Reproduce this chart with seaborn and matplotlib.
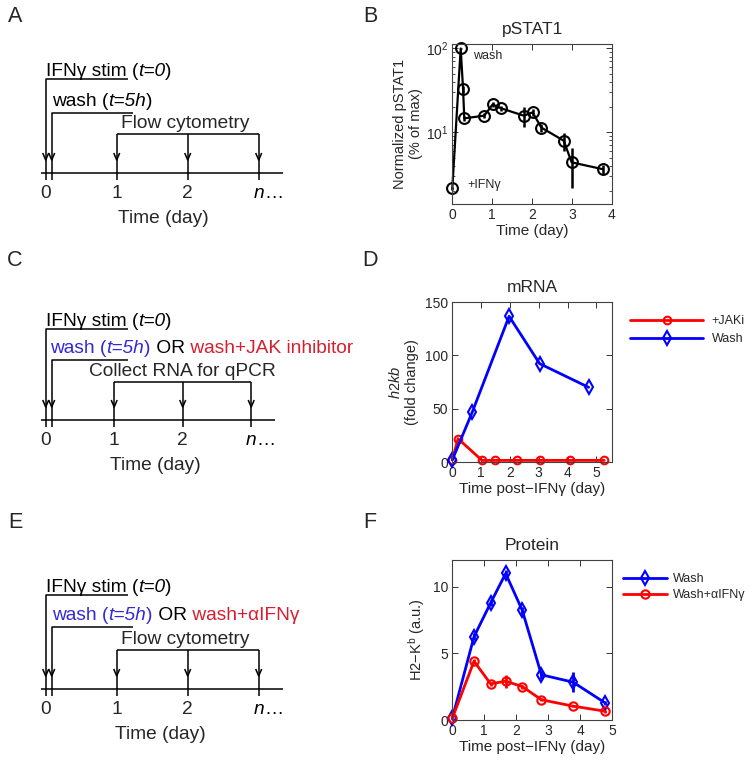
import numpy as np
import pandas as pd
import matplotlib
matplotlib.use('Agg')
import matplotlib.pyplot as plt
import seaborn as sns

# panel B: pSTAT1 (log scale)
pstat_days = [0, 0.21, 0.27, 0.30, 0.80, 1.01, 1.23, 1.79, 2.01, 2.23, 2.79, 2.99, 3.78]
pstat_vals = [2.15, 100, 32.7, 14.7, 15.8, 21.5, 19.3, 15.8, 17.3, 11.4, 7.96, 4.39, 3.63]
pstat_err = [0.1, 2, 3, 1, 1, 1.5, 1.5, 4.2, 1.5, 1.2, 2.0, 2.2, 0.4]

# panel D: h2kb mRNA
mrna_jak_days = [0, 0.2, 1.03, 1.48, 2.24, 3.03, 4.1, 5.27]
mrna_jak = [2, 21.9, 1.5, 1.5, 1.5, 1.5, 1.5, 1.5]
mrna_wash_days = [0, 0.69, 1.97, 3.03, 4.73]
mrna_wash = [2, 46.6, 136.6, 92.2, 70]

# panel F: H2-Kb protein
prot_days = [0, 0.68, 1.2, 1.67, 2.19, 2.79, 3.78, 4.78]
prot_wash = [0.13, 6.25, 8.78, 10.99, 8.23, 3.39, 2.84, 1.29]
prot_wash_err = [0.05, 0.25, 0.25, 0.25, 0.25, 0.3, 0.73, 0.15]
prot_ab = [0.13, 4.41, 2.71, 2.91, 2.51, 1.52, 1.04, 0.66]
prot_ab_err = [0.05, 0.15, 0.15, 0.5, 0.15, 0.1, 0.1, 0.1]

# timeline schematics
tl_days = [1, 2, 3]
tl_labels = ['1', '2', 'n']

sns.set_style('ticks')
plt.rcParams['font.family'] = ['Liberation Sans', 'DejaVu Sans']
plt.rcParams['mathtext.fontset'] = 'custom'
plt.rcParams['mathtext.rm'] = 'Liberation Sans'
plt.rcParams['mathtext.it'] = 'Liberation Sans:italic'
plt.rcParams['mathtext.bf'] = 'Liberation Sans:bold'

BLUE = '#0000ff'
RED = '#ff0000'
TBLUE = '#3328d8'
TRED = '#d81e2e'
W, H = 754, 768
fig = plt.figure(figsize=(7.54, 7.68), dpi=100)

canvas = fig.add_axes([0, 0, 1, 1])
canvas.set_xlim(0, W)
canvas.set_ylim(H, 0)
canvas.axis('off')


def px_axes(left, top, right, bottom):
    return fig.add_axes([left/W, 1-bottom/H, (right-left)/W, (bottom-top)/H])


def rich_text(x, y, parts, size=13.8, ha='left'):
    s, c, st = parts[0]
    t = canvas.text(x, y, s, color=c, style=st, size=size, va='baseline', ha=ha)
    for s, c, st in parts[1:]:
        t = canvas.annotate(s, xy=(1, 0), xycoords=t, va='bottom', ha='left',
                            color=c, style=st, size=size)
    return t


def timeline(y_ax, y_ifn, y_wash, y_samp, x0, day_px, x_end, wash_end,
             wash_parts, wash_x, samp_text, samp_x, time_x):
    kw = dict(color='k', lw=1.1, solid_capstyle='butt')
    xw = x0 + 6
    xs = [x0 + day_px*d for d in tl_days]
    bottom = y_ax + 7
    tip = y_ax - 13
    canvas.plot([41, x_end], [y_ax, y_ax], **kw)
    canvas.plot([x0, x0, 128], [bottom, y_ifn, y_ifn], **kw)
    canvas.plot([xw, xw, wash_end], [bottom, y_wash, y_wash], **kw)
    canvas.plot([xs[0], xs[-1]], [y_samp, y_samp], **kw)
    for x in xs:
        canvas.plot([x, x], [y_samp, bottom], **kw)
    for x in [x0, xw] + xs:
        canvas.plot([x-3, x, x+3], [tip-7, tip, tip-7], **kw)
    rich_text(x0, y_ifn-3, [('IFNγ stim (', 'k', 'normal'), ('t=0', 'k', 'italic'),
                            (')', 'k', 'normal')])
    rich_text(wash_x, y_wash-7, wash_parts)
    canvas.text(samp_x, y_samp-6, samp_text, size=13.8, ha='center', va='baseline')
    canvas.text(x0, y_ax+25, '0', size=13.8, ha='center', va='baseline')
    for x, lab in zip(xs, tl_labels):
        if lab == 'n':
            rich_text(x, y_ax+25, [('n', 'k', 'italic'), ('…', 'k', 'normal')], ha='center')
        else:
            canvas.text(x, y_ax+25, lab, size=13.8, ha='center', va='baseline')
    canvas.text(time_x, y_ax+50, 'Time (day)', size=13.8, ha='center', va='baseline')


timeline(173, 79, 113, 134, 45.7, 71, 283, 133,
         [('wash (', 'k', 'normal'), ('t=5h', 'k', 'italic'), (')', 'k', 'normal')], 52,
         'Flow cytometry', 185, 163)
timeline(420, 329, 360, 382, 45.7, 68.5, 275, 128,
         [('wash (', TBLUE, 'normal'), ('t=5h', TBLUE, 'italic'), (')', TBLUE, 'normal'),
          (' OR', 'k', 'normal'), (' wash+JAK inhibitor', TRED, 'normal')], 50,
         'Collect RNA for qPCR', 182, 155)
timeline(689, 595, 627, 650, 45.7, 71, 283, 133,
         [('wash (', TBLUE, 'normal'), ('t=5h', TBLUE, 'italic'), (')', TBLUE, 'normal'),
          (' OR', 'k', 'normal'), (' wash+αIFNγ', TRED, 'normal')], 52,
         'Flow cytometry', 185, 160)

for lab, x, y in [('A', 15, 17), ('B', 370, 17), ('C', 15, 260), ('D', 370, 260),
                  ('E', 15, 522), ('F', 370, 522)]:
    canvas.text(x, y, lab, size=15.5, ha='center', va='center')


def style_axes(ax):
    ax.tick_params(direction='in', top=True, right=True, labelsize=10,
                   length=4, width=0.7, color='0.2', pad=3)
    ax.tick_params(which='minor', direction='in', top=True, right=True,
                   length=2.5, width=0.6, color='0.2')
    for sp in ax.spines.values():
        sp.set_visible(True)
        sp.set_linewidth(0.8)
        sp.set_color('0.25')


# B
axB = px_axes(452.3, 44, 612, 204)
axB.errorbar(pstat_days, pstat_vals, yerr=pstat_err, fmt='none', ecolor='k',
             elinewidth=1.8, capsize=0, clip_on=False)
sns.lineplot(x=pstat_days, y=pstat_vals, color='k', lw=1.6, marker='o', ms=7.8,
             mfc='none', mec='k', mew=1.5, sort=False, errorbar=None, ax=axB, clip_on=False)
axB.set_yscale('log')
axB.set_ylim(1.4, 113)
axB.set_xlim(0, 4)
axB.set_xticks([0, 1, 2, 3, 4])
axB.text(0.52, 82, 'wash', size=9, va='center')
axB.text(0.37, 2.35, '+IFNγ', size=9, va='center')
axB.set_title('pSTAT1', size=12.5, pad=7)
axB.set_xlabel('Time (day)', size=11, labelpad=1)
axB.set_ylabel('Normalized pSTAT1\n(% of max)', size=10.5, labelpad=2)
style_axes(axB)

# D
axD = px_axes(452.3, 302, 612, 462)
sns.lineplot(x=mrna_jak_days, y=mrna_jak, color=RED, lw=2, marker='o', ms=5.5,
             mfc='none', mec=RED, mew=1.5, sort=False, errorbar=None, ax=axD,
             clip_on=False, label='+JAKi')
sns.lineplot(x=mrna_wash_days, y=mrna_wash, color=BLUE, lw=2, marker='d', ms=7.5,
             mfc='none', mec=BLUE, mew=1.5, sort=False, errorbar=None, ax=axD,
             clip_on=False, label='Wash')
axD.set_xlim(0, 5.54)
axD.set_ylim(0, 150)
axD.set_xticks([0, 1, 2, 3, 4, 5])
axD.set_yticks([0, 50, 100, 150])
axD.set_title('mRNA', size=12.5, pad=7)
axD.set_xlabel('Time post−IFNγ (day)', size=11, labelpad=1)
axD.set_ylabel('$\\mathit{h2kb}$\n(fold change)', size=10.5, labelpad=4)
axD.legend(loc='upper left', bbox_to_anchor=(624/W, 1-309/H), bbox_transform=fig.transFigure,
           frameon=False, fontsize=9, handlelength=5.8, labelspacing=0.5,
           borderpad=0, handletextpad=0.7)
style_axes(axD)

# F
axF = px_axes(452.3, 560, 612, 720)
axF.errorbar(prot_days, prot_wash, yerr=prot_wash_err, fmt='none', ecolor=BLUE,
             elinewidth=2, capsize=0, clip_on=False)
sns.lineplot(x=prot_days, y=prot_wash, color=BLUE, lw=2, marker='d', ms=7.5,
             mfc='none', mec=BLUE, mew=1.5, sort=False, errorbar=None, ax=axF,
             clip_on=False, label='Wash')
axF.errorbar(prot_days, prot_ab, yerr=prot_ab_err, fmt='none', ecolor=RED,
             elinewidth=2, capsize=0, clip_on=False)
sns.lineplot(x=prot_days, y=prot_ab, color=RED, lw=2, marker='o', ms=6,
             mfc='none', mec=RED, mew=1.5, sort=False, errorbar=None, ax=axF,
             clip_on=False, label='Wash+αIFNγ')
axF.set_xlim(0, 5)
axF.set_ylim(0, 12)
axF.set_xticks([0, 1, 2, 3, 4, 5])
axF.set_yticks([0, 5, 10])
axF.set_title('Protein', size=12.5, pad=7)
axF.set_xlabel('Time post−IFNγ (day)', size=11, labelpad=1)
axF.set_ylabel('H2−K$^\\mathrm{b}$ (a.u.)', size=10.5, labelpad=4)
axF.legend(loc='upper left', bbox_to_anchor=(617/W, 1-567/H), bbox_transform=fig.transFigure,
           frameon=False, fontsize=9, handlelength=3.5, labelspacing=0.3,
           borderpad=0, handletextpad=0.5)
style_axes(axF)

fig.savefig('out.png', dpi=100)
